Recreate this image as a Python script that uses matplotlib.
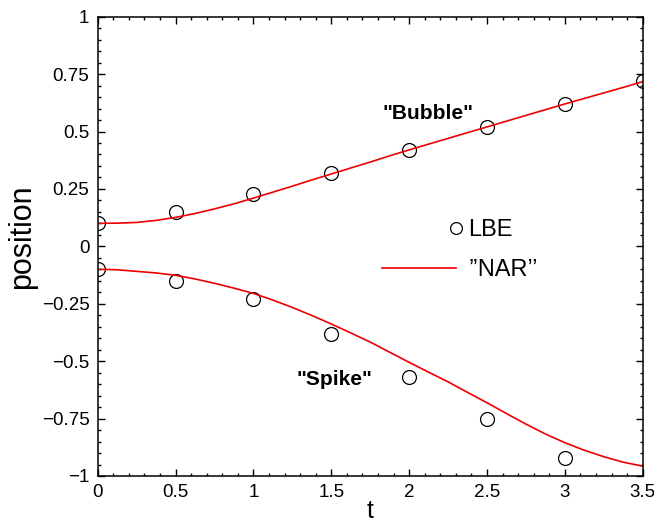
import matplotlib
matplotlib.use("Agg")
import matplotlib.pyplot as plt
from matplotlib.lines import Line2D
from matplotlib.legend_handler import HandlerLine2D
from matplotlib.ticker import MultipleLocator

plt.rcParams['font.family'] = ['Liberation Sans', 'DejaVu Sans']

# LBE simulation: interface positions of bubble (upper) and spike (lower)
t_lbe = [0.0, 0.5, 1.0, 1.5, 2.0, 2.5, 3.0, 3.5]
bubble_lbe = [0.10, 0.15, 0.23, 0.32, 0.42, 0.52, 0.62, 0.72]
spike_lbe = [-0.10, -0.15, -0.23, -0.38, -0.57, -0.75, -0.92]

# NAR model curves
t_nar = [0.0, 0.125, 0.25, 0.375, 0.5, 0.625, 0.75, 0.875, 1.0, 1.125, 1.25, 1.375,
         1.5, 1.625, 1.75, 1.875, 2.0, 2.125, 2.25, 2.375, 2.5, 2.625, 2.75, 2.875,
         3.0, 3.125, 3.25, 3.375, 3.5]
bubble_nar = [0.100, 0.101, 0.104, 0.113, 0.126, 0.143, 0.163, 0.185, 0.210, 0.236,
              0.262, 0.289, 0.315, 0.341, 0.367, 0.394, 0.420, 0.445, 0.470, 0.495,
              0.520, 0.545, 0.570, 0.595, 0.620, 0.644, 0.668, 0.692, 0.717]
spike_nar = [-0.100, -0.102, -0.109, -0.116, -0.126, -0.142, -0.161, -0.182, -0.205,
             -0.234, -0.266, -0.301, -0.338, -0.377, -0.417, -0.461, -0.505, -0.548,
             -0.590, -0.636, -0.681, -0.728, -0.774, -0.817, -0.855, -0.888, -0.916,
             -0.940, -0.957]

xticks = [0, 0.5, 1, 1.5, 2, 2.5, 3, 3.5]
xticklabels = ['0', '0.5', '1', '1.5', '2', '2.5', '3', '3.5']
yticks = [-1, -0.75, -0.5, -0.25, 0, 0.25, 0.5, 0.75, 1]
yticklabels = ['\u22121', '\u22120.75', '\u22120.5', '\u22120.25', '0', '0.25', '0.5', '0.75', '1']


class MarkerAtEnd(HandlerLine2D):
    # single legend marker drawn at the right end of the handle
    def create_artists(self, *args, **kwargs):
        artists = super().create_artists(*args, **kwargs)
        artists[0].set_markevery([2])
        return artists


fig = plt.figure(figsize=(6.54, 5.21), dpi=100)
ax = fig.add_axes([0.1494, 0.0864, 0.8333, 0.8816])

circ = dict(marker='o', ms=10, mfc='none', mec='black', mew=0.9, ls='none')
red = '#ee0000'
ax.plot(t_lbe, bubble_lbe, **circ)
ax.plot(t_lbe[:len(spike_lbe)], spike_lbe, **circ)
ax.plot(t_nar, bubble_nar, color=red, lw=1.2)
ax.plot(t_nar, spike_nar, color=red, lw=1.2)

ax.text(2.12, 0.58, '"Bubble"', fontsize=15, fontweight='bold', ha='center', va='center')
ax.text(1.52, -0.58, '"Spike"', fontsize=15, fontweight='bold', ha='center', va='center')

ax.set_xlim(0, 3.5)
ax.set_ylim(-1, 1)
ax.set_xticks(xticks)
ax.set_xticklabels(xticklabels)
ax.set_yticks(yticks)
ax.set_yticklabels(yticklabels)
ax.xaxis.set_minor_locator(MultipleLocator(0.1))
ax.yaxis.set_minor_locator(MultipleLocator(0.05))
ax.tick_params(which='both', direction='in', top=True, right=True, width=1.0)
ax.tick_params(which='major', length=5, labelsize=13.5, pad=6)
ax.tick_params(which='minor', length=2.5)
for s in ax.spines.values():
    s.set_linewidth(1.1)

ax.set_xlabel('t', fontsize=18, labelpad=-2)
ax.set_ylabel('position', fontsize=22)
ax.yaxis.set_label_coords(-0.111, 0.52)

handles = [Line2D([], [], marker='o', ms=8.5, mfc='none', mec='black', mew=0.9, ls='none'),
           Line2D([], [], color=red, lw=1.2)]
leg = ax.legend(handles, ['LBE', '\u2019\u2019NAR\u2019\u2019'], loc='center',
                bbox_to_anchor=(0.665, 0.492), frameon=False, fontsize=17,
                handlelength=3.1, handletextpad=0.55, labelspacing=0.75,
                handler_map={handles[0]: MarkerAtEnd(numpoints=1)})

fig.savefig('out.png', dpi=100)
